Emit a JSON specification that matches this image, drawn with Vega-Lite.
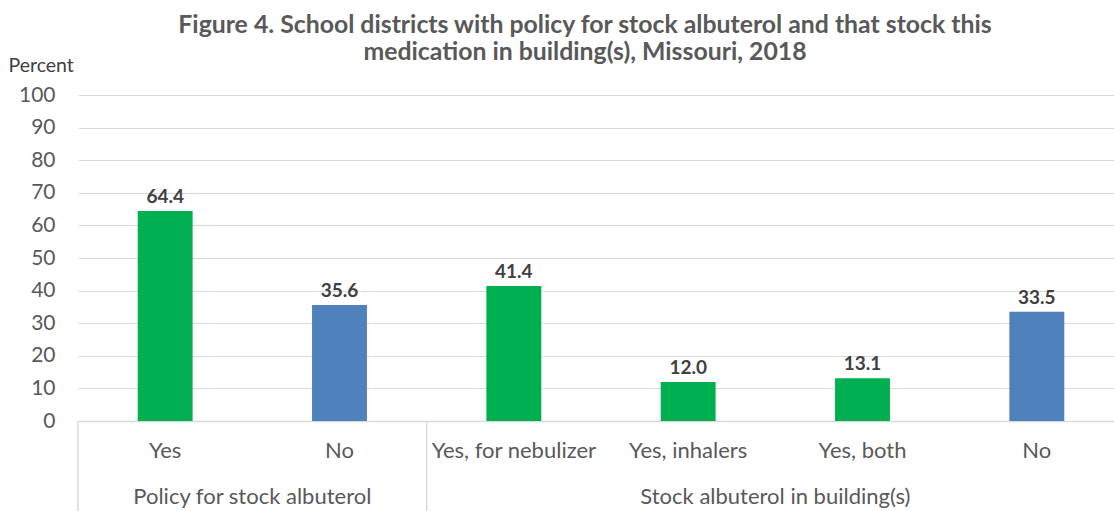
{
  "$schema": "https://vega.github.io/schema/vega-lite/v6.json",
  "width": 1046,
  "height": 326,
  "autosize": {"type": "none"},
  "padding": {"left": 78, "top": 95, "right": 0, "bottom": 90},
  "background": "white",
  "title": {
    "text": ["Figure 4. School districts with policy for stock albuterol and that stock this", "medication in building(s), Missouri, 2018"],
    "font": "Lato",
    "fontSize": 24.8,
    "fontWeight": "bold",
    "color": "#595959",
    "lineHeight": 27,
    "anchor": "middle",
    "dx": -16,
    "dy": 20,
    "offset": 10
  },
  "config": {"view": {"stroke": null}, "font": "Lato"},
  "datasets": {
    "bars": [
      {"key": "P|Yes", "answer": "Yes", "value": 64.4},
      {"key": "P|No", "answer": "No", "value": 35.6},
      {"key": "S|Yes, for nebulizer", "answer": "Yes", "value": 41.4},
      {"key": "S|Yes, inhalers", "answer": "Yes", "value": 12.0},
      {"key": "S|Yes, both", "answer": "Yes", "value": 13.1},
      {"key": "S|No", "answer": "No", "value": 33.5}
    ],
    "groups": [
      {"group": "Policy for stock albuterol", "pos": 1},
      {"group": "Stock albuterol in building(s)", "pos": 4}
    ],
    "seps": [{"pos": 0}, {"pos": 2}]
  },
  "layer": [
    {
      "data": {"name": "bars"},
      "encoding": {
        "x": {
          "field": "key", "type": "nominal", "sort": null,
          "scale": {"paddingInner": 0.685, "paddingOuter": 0.3425},
          "axis": {
            "title": null, "labelAngle": 0, "ticks": false,
            "labelExpr": "split(datum.label, '|')[1]",
            "labelFontSize": 22, "labelColor": "#595959", "labelPadding": 19,
            "domainColor": "#d9d9d9", "domainWidth": 1.5
          }
        },
        "y": {
          "field": "value", "type": "quantitative",
          "scale": {"domain": [0, 100], "nice": false},
          "axis": {
            "values": [0, 10, 20, 30, 40, 50, 60, 70, 80, 90, 100],
            "tickCount": 11,
            "labelOverlap": false,
            "title": "Percent", "titleAngle": 0, "titleAlign": "left",
            "titleBaseline": "middle", "titleX": -70, "titleY": -30,
            "titleFontSize": 19.5, "titleFontWeight": "normal", "titleColor": "#404040",
            "labelFontSize": 21, "labelColor": "#595959", "labelPadding": 23,
            "domain": false, "ticks": false,
            "gridColor": "#d9d9d9", "gridWidth": 1.2
          }
        }
      },
      "layer": [
        {
          "mark": {"type": "bar"},
          "encoding": {
            "color": {
              "field": "answer", "type": "nominal",
              "scale": {"domain": ["Yes", "No"], "range": ["#00b050", "#4f81bd"]},
              "legend": null
            }
          }
        },
        {
          "mark": {"type": "text", "dy": -8, "fontSize": 19, "fontWeight": "bold", "color": "#404040", "baseline": "alphabetic"},
          "encoding": {
            "text": {"field": "value", "type": "quantitative", "format": ".1f"}
          }
        }
      ]
    },
    {
      "data": {"name": "groups"},
      "mark": {"type": "text", "fontSize": 22, "color": "#595959", "dy": 76, "baseline": "middle"},
      "encoding": {
        "x": {"field": "pos", "type": "quantitative", "scale": {"domain": [0, 6], "nice": false}, "axis": null},
        "y": {"datum": 0, "type": "quantitative", "axis": null},
        "text": {"field": "group", "type": "nominal"}
      }
    },
    {
      "data": {"name": "seps"},
      "mark": {"type": "rule", "color": "#d9d9d9", "strokeWidth": 1.5},
      "encoding": {
        "x": {"field": "pos", "type": "quantitative", "scale": {"domain": [0, 6], "nice": false}, "axis": null},
        "y": {"datum": 0, "type": "quantitative", "axis": null},
        "y2": {"datum": -28}
      }
    }
  ],
  "resolve": {"scale": {"x": "independent"}, "axis": {"y": "independent"}}
}
